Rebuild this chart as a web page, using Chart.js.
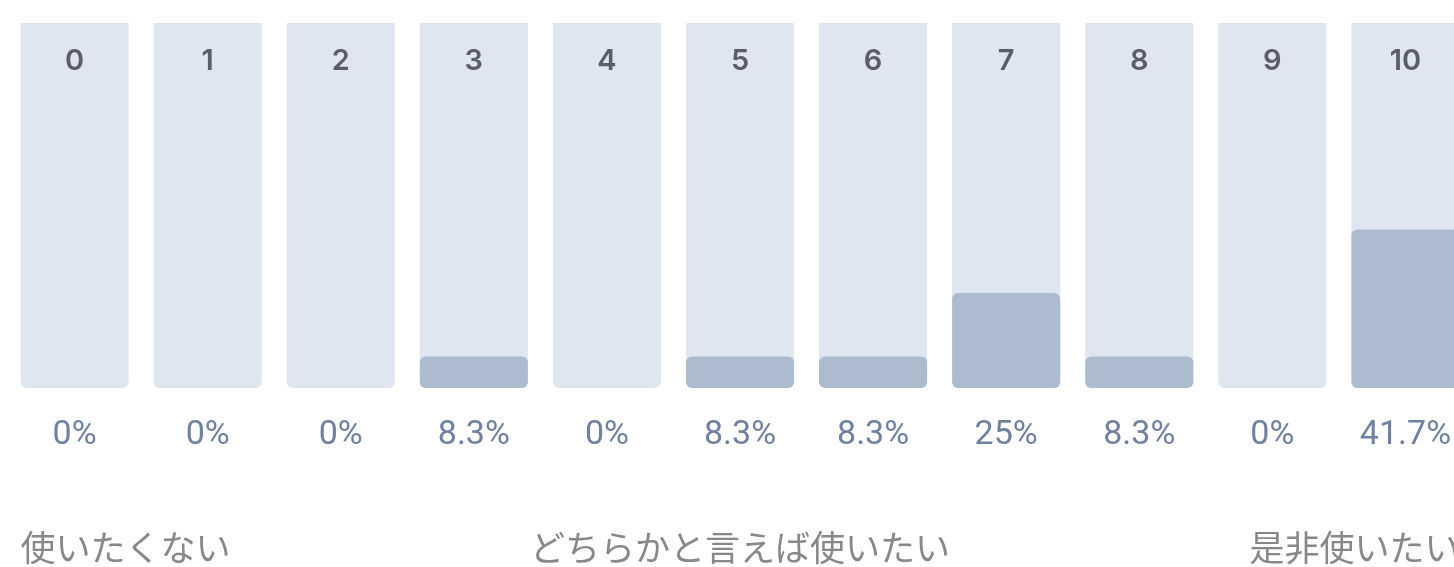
<!DOCTYPE html>
<html>
<head>
<meta charset="utf-8">
<script src="https://cdn.jsdelivr.net/npm/chart.js@4"></script>
<style>
    html, body {margin: 0; padding: 0; background: #fff; overflow: hidden;}
    #wrap {position: relative; width: 1480px; height: 567px;}
</style>
</head>
<body>
<div id="wrap"><canvas id="npsChart"></canvas></div>
<script>
// スコア分布
var scores = ['0', '1', '2', '3', '4', '5', '6', '7', '8', '9', '10'];
var shares = [0, 0, 0, 8.3, 0, 8.3, 8.3, 25, 8.3, 0, 41.7];
var captions = ['使いたくない', 'どちらかと言えば使いたい', '是非使いたい'];
var scaleMax = 96;

var labelPlugin = {
    id: 'npsLabels',
    afterDatasetsDraw: function (chart) {
        var ctx = chart.ctx;
        var xs = chart.scales.x;
        var area = chart.chartArea;
        var meta = chart.getDatasetMeta(1);
        ctx.save();
        ctx.textAlign = 'center';
        ctx.textBaseline = 'middle';
        scores.forEach(function (s, i) {
            var x = xs.getPixelForValue(i);
            ctx.fillStyle = '#5a5e68';
            ctx.font = '600 29px Inter, "Noto Sans", sans-serif';
            ctx.fillText(s, x, area.top + 38);
            ctx.fillStyle = '#7080a0';
            ctx.font = '400 34px Roboto, "Noto Sans", sans-serif';
            ctx.fillText(shares[i] + '%', x, area.bottom + 47);
        });
        // 下部キャプション
        var first = meta.data[0], mid = meta.data[5], last = meta.data[scores.length - 1];
        var cy = area.bottom + 160;
        ctx.fillStyle = '#888888';
        ctx.font = '35px "Noto Sans CJK JP", sans-serif';
        ctx.textAlign = 'left';
        ctx.fillText(captions[0], first.x - first.width / 2, cy);
        ctx.textAlign = 'center';
        ctx.fillText(captions[1], mid.x, cy);
        ctx.textAlign = 'right';
        ctx.fillText(captions[2], last.x + last.width / 2, cy);
        ctx.restore();
    }
};

new Chart(document.getElementById('npsChart').getContext('2d'), {
    type: 'bar',
    data: {
        labels: scores,
        datasets: [{
            data: shares,
            backgroundColor: '#adbbcf',
            borderRadius: 6,
            borderSkipped: false,
            order: 0
        }, {
            data: scores.map(function () { return scaleMax; }),
            backgroundColor: '#dfe6f0',
            borderRadius: {topLeft: 0, topRight: 0, bottomLeft: 6, bottomRight: 6},
            borderSkipped: false,
            order: 1
        }]
    },
    options: {
        responsive: true,
        maintainAspectRatio: false,
        animation: false,
        datasets: {bar: {categoryPercentage: 1, barPercentage: 0.812}},
        layout: {padding: {left: 8, right: 8, top: 23, bottom: 179}},
        scales: {
            x: {display: false, stacked: true},
            y: {display: false, stacked: false, min: 0, max: scaleMax}
        },
        plugins: {legend: {display: false}, tooltip: {enabled: false}}
    },
    plugins: [labelPlugin]
});
</script>
</body>
</html>
